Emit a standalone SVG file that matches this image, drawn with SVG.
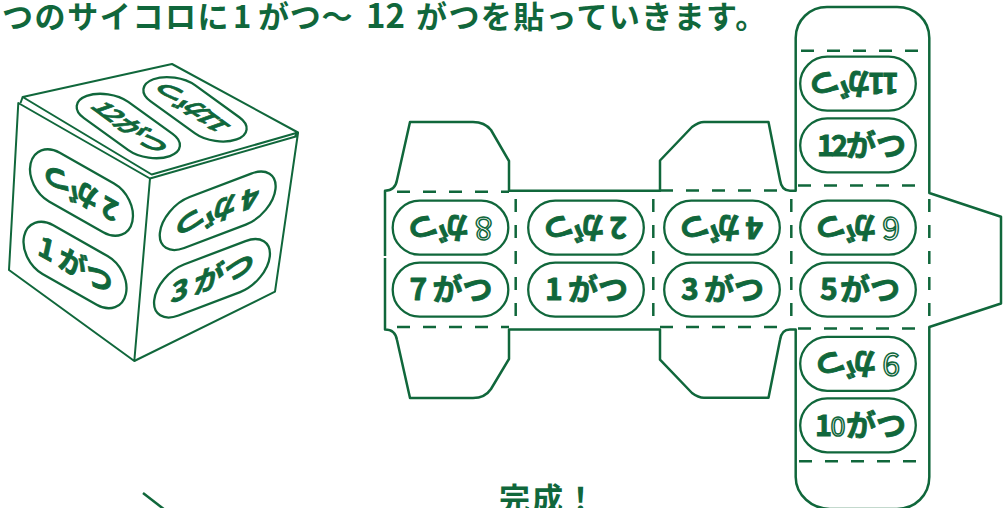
<svg xmlns="http://www.w3.org/2000/svg" width="1005" height="508" viewBox="0 0 1005 508">
<style>
text{font-family:"Noto Sans CJK JP","Noto Sans",sans-serif;font-weight:700;fill:#10673b}
.title{font-size:31px}
.d,.k{font-size:30px;stroke:#10673b;stroke-width:.9px;stroke-linejoin:round}
.o{fill:#fff;stroke:#10673b;stroke-width:1.5px;font-weight:400;font-size:32px}
.n{font-size:29px;letter-spacing:-3px;stroke:#10673b;stroke-width:.9px}
.line{fill:none;stroke:#10673b;stroke-width:2.5;stroke-linejoin:round}
.thin{fill:none;stroke:#10673b;stroke-width:2;stroke-linejoin:round}
.dash{fill:none;stroke:#10673b;stroke-width:2.5;stroke-dasharray:13 13}
.pill{fill:#fff;stroke:#10673b;stroke-width:2.3;vector-effect:non-scaling-stroke}
</style>
<defs>
<rect id="p" x="-57.8" y="-27" width="115.6" height="54" rx="27" ry="27" class="pill"/>
</defs>
<g id="title">
<text class="title" y="28"><tspan x="2" letter-spacing="1.6">つのサイコロに</tspan><tspan x="233">1</tspan><tspan x="258" letter-spacing=".8">がつ〜</tspan><tspan x="366" style="font-size:33px">12</tspan><tspan x="416" letter-spacing="1.4">がつを貼っていきます。</tspan></text>
</g>
<g id="done"><text class="title" x="499" y="510" letter-spacing="2">完成！</text></g>
<g id="arrow"><path class="line" d="M143 493L165 510"/></g>
<g id="cube">
<path class="thin" d="M22.7 97L172 64L298 132.5L151.7 174.5Z"/>
<path class="thin" d="M22.7 97L20.5 103M297.5 133L295 136"/>
<path class="thin" d="M18.3 103L150 178.5L134.3 361L9 270Z"/>
<path class="thin" d="M150 178.5L297.5 136L298 133L275 291.7L134.3 361"/>
<g id="c12" transform="matrix(.72 .52 -.82 .3 128.3 126)"><use href="#p"/><text class="n" x="-43" y="10.5">12</text><text class="k" x="-12" y="10.5">がつ</text></g>
<g id="c11" transform="matrix(-.72 -.52 .82 -.3 195 109.3)"><use href="#p"/><text class="n" x="-40" y="10.5">11</text><text class="k" x="-12" y="10.5">がつ</text></g>
<g id="c2" transform="matrix(.88 .5 -.2 .9 81.5 192.5) rotate(180)"><use href="#p"/><text class="d" x="-41" y="10.5">2</text><text class="k" x="-18" y="10.5">がつ</text></g>
<g id="c1" transform="matrix(.88 .5 -.2 .9 75 265)"><use href="#p"/><text class="d" x="-41" y="10.5">1</text><text class="k" x="-18" y="10.5">がつ</text></g>
<g id="c4" transform="matrix(1 -.38 -.1 .945 217.7 210.8) rotate(180)"><use href="#p"/><text class="d" x="-41" y="10.5">4</text><text class="k" x="-18" y="10.5">がつ</text></g>
<g id="c3" transform="matrix(1 -.38 -.1 .945 212 278.3)"><use href="#p"/><text class="d" x="-41" y="10.5">3</text><text class="k" x="-18" y="10.5">がつ</text></g>
</g>
<g id="connectors">
<path class="line" d="M385 258V329.5C393 329.5 396 334 397 340L410 398H473C481 398 487 395 491 389L509 359V329.5H660V359.7L692 393C696 396 699 397.7 704 397.7H768.5L780 340C781 333 784 329.5 790 329.5H795.7V477C795.7 495 812 509 830 509H897C915 509 929.3 495 929.3 477V327L1001 303.5V216.7L929.3 193V38C929.3 20 915 7 897 7H827C810 7 795.7 20 795.7 38V190.7H790C784 190.7 781 187 780 180L768.5 122H704C699 122 696 124 692 127L660 160.5V190.7H509V161L491 130C487 125 481 122 473 122H410L397 180C396 186 393 190.7 385 190.7V256"/>
<path class="dash" d="M397 191.7H509M397 327H509M660 190.5H785M660 327H785M798 185.5H920M798 328.5H920M801 50.7H922M799 461.3H920"/>
<path class="dash" d="M515.7 199V320M653.3 199V320M791.3 199V320M929.3 199V320"/>
</g>
<g id="n8" transform="translate(450.5 227.7) rotate(180)"><use href="#p"/><text class="o" x="-42" y="11">8</text><text class="k" x="-18" y="10.5">がつ</text></g>
<g id="n7" transform="translate(450.5 289.7)"><use href="#p"/><text class="d" x="-41" y="10.5">7</text><text class="k" x="-18" y="10.5">がつ</text></g>
<g id="n2" transform="translate(586 227.7) rotate(180)"><use href="#p"/><text class="d" x="-41" y="10.5">2</text><text class="k" x="-18" y="10.5">がつ</text></g>
<g id="n1" transform="translate(586 289.7)"><use href="#p"/><text class="d" x="-41" y="10.5">1</text><text class="k" x="-18" y="10.5">がつ</text></g>
<g id="n4" transform="translate(722 227.7) rotate(180)"><use href="#p"/><text class="d" x="-41" y="10.5">4</text><text class="k" x="-18" y="10.5">がつ</text></g>
<g id="n3" transform="translate(722 289.7)"><use href="#p"/><text class="d" x="-41" y="10.5">3</text><text class="k" x="-18" y="10.5">がつ</text></g>
<g id="n6" transform="translate(858 227.7) rotate(180)"><use href="#p"/><text class="o" x="-42" y="11">6</text><text class="k" x="-18" y="10.5">がつ</text></g>
<g id="n5" transform="translate(858 289.7)"><use href="#p"/><text class="d" x="-38" y="10.5">5</text><text class="k" x="-18" y="10.5">がつ</text></g>
<g id="n11" transform="translate(858 83.7) rotate(180)"><use href="#p"/><text class="n" x="-41" y="10.5">11</text><text class="k" x="-12" y="10.5">がつ</text></g>
<g id="n12" transform="translate(858 145.3)"><use href="#p"/><text class="n" x="-41" y="10.5">12</text><text class="k" x="-12" y="10.5">がつ</text></g>
<g id="n9" transform="translate(858 363.8) rotate(180)"><use href="#p"/><text class="o" x="-42" y="11">9</text><text class="k" x="-18" y="10.5">がつ</text></g>
<g id="n10" transform="translate(858 425.3)"><use href="#p"/><text class="n" x="-43" y="10.5">1</text><text class="o" x="-27.5" y="10.5" style="font-size:27px">0</text><text class="k" x="-12" y="10.5">がつ</text></g>
</svg>
